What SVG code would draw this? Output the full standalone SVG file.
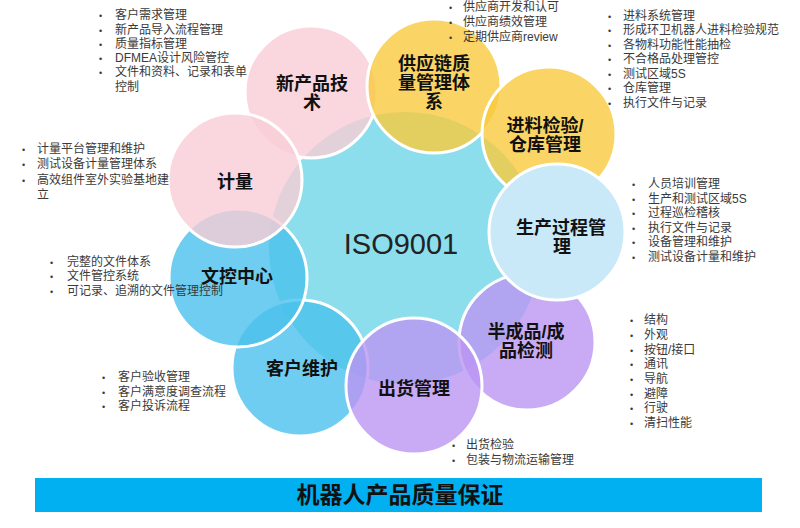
<svg xmlns="http://www.w3.org/2000/svg" width="800" height="528" viewBox="0 0 800 528">
<style>
.c{stroke:#fff;stroke-width:3}
.pink{fill:#f9cdd6;fill-opacity:.8}
.yel{fill:#f9c93d;fill-opacity:.8}
.blue{fill:#4ac0ec;fill-opacity:.8}
.pur{fill:#ba95f2;fill-opacity:.8}
.lbl{font-family:"Liberation Sans","Noto Sans CJK SC",sans-serif;font-weight:bold;font-size:18px;fill:#111;text-anchor:middle}
.lst{font-family:"Liberation Sans","Noto Sans CJK SC",sans-serif;font-size:12px;fill:#3a3a3a}
.bul{font-family:"Liberation Sans",sans-serif;font-size:9px;fill:#3a3a3a}
</style>
<rect width="800" height="528" fill="#fff"/>
<g id="iso9001">
<circle cx="405" cy="248" r="136" fill="#8cdeec"/>
<text x="401" y="254" font-family="Liberation Sans,Arial,sans-serif" font-size="29" fill="#222" text-anchor="middle">ISO9001</text>
</g>
<g id="new-product">
<circle class="c pink" cx="311" cy="92" r="66"/>
<text class="lbl"><tspan x="312" y="90">新产品技</tspan><tspan x="312" y="109">术</tspan></text>
<text class="bul"><tspan x="99" y="19">•</tspan><tspan x="99" y="34">•</tspan><tspan x="99" y="48">•</tspan><tspan x="99" y="62">•</tspan><tspan x="99" y="76">•</tspan></text>
<text class="lst"><tspan x="115" y="19">客户需求管理</tspan><tspan x="115" y="34">新产品导入流程管理</tspan><tspan x="115" y="48">质量指标管理</tspan><tspan x="115" y="62">DFMEA设计风险管控</tspan><tspan x="115" y="76">文件和资料、记录和表单</tspan><tspan x="115" y="91">控制</tspan></text>
</g>
<g id="supply-chain">
<circle class="c yel" cx="434" cy="86" r="67"/>
<text class="lbl"><tspan x="434" y="70">供应链质</tspan><tspan x="434" y="89">量管理体</tspan><tspan x="434" y="108">系</tspan></text>
<text class="bul"><tspan x="449" y="11">•</tspan><tspan x="449" y="26">•</tspan><tspan x="449" y="41">•</tspan></text>
<text class="lst"><tspan x="463" y="11">供应商开发和认可</tspan><tspan x="463" y="26">供应商绩效管理</tspan><tspan x="463" y="41">定期供应商review</tspan></text>
</g>
<g id="incoming">
<circle class="c yel" cx="549" cy="134" r="67"/>
<text class="lbl"><tspan x="545" y="132">进料检验/</tspan><tspan x="545" y="151">仓库管理</tspan></text>
<text class="bul"><tspan x="608" y="19.5">•</tspan><tspan x="608" y="34">•</tspan><tspan x="608" y="48.5">•</tspan><tspan x="608" y="63">•</tspan><tspan x="608" y="77.5">•</tspan><tspan x="608" y="92">•</tspan><tspan x="608" y="106.5">•</tspan></text>
<text class="lst"><tspan x="623" y="19.5">进料系统管理</tspan><tspan x="623" y="34">形成环卫机器人进料检验规范</tspan><tspan x="623" y="48.5">各物料功能性能抽检</tspan><tspan x="623" y="63">不合格品处理管控</tspan><tspan x="623" y="77.5">测试区域5S</tspan><tspan x="623" y="92">仓库管理</tspan><tspan x="623" y="106.5">执行文件与记录</tspan></text>
</g>
<g id="semi-finished">
<circle class="c pur" cx="527" cy="342" r="68"/>
<text class="lbl"><tspan x="526" y="338">半成品/成</tspan><tspan x="526" y="357">品检测</tspan></text>
<text class="bul"><tspan x="630" y="324">•</tspan><tspan x="630" y="339">•</tspan><tspan x="630" y="354">•</tspan><tspan x="630" y="368">•</tspan><tspan x="630" y="383">•</tspan><tspan x="630" y="398">•</tspan><tspan x="630" y="412">•</tspan><tspan x="630" y="427">•</tspan></text>
<text class="lst"><tspan x="644" y="324">结构</tspan><tspan x="644" y="339">外观</tspan><tspan x="644" y="354">按钮/接口</tspan><tspan x="644" y="368">通讯</tspan><tspan x="644" y="383">导航</tspan><tspan x="644" y="398">避障</tspan><tspan x="644" y="412">行驶</tspan><tspan x="644" y="427">清扫性能</tspan></text>
</g>
<g id="customer">
<circle class="c blue" cx="300" cy="368" r="68"/>
<text class="lbl" x="302" y="375">客户维护</text>
<text class="bul"><tspan x="102" y="381">•</tspan><tspan x="102" y="396">•</tspan><tspan x="102" y="410">•</tspan></text>
<text class="lst"><tspan x="118" y="381">客户验收管理</tspan><tspan x="118" y="396">客户满意度调查流程</tspan><tspan x="118" y="410">客户投诉流程</tspan></text>
</g>
<g id="doc-control">
<circle class="c blue" cx="238" cy="278" r="69"/>
<text class="lbl" x="237" y="283">文控中心</text>
<text class="bul"><tspan x="50" y="266">•</tspan><tspan x="50" y="280">•</tspan><tspan x="50" y="295">•</tspan></text>
<text class="lst"><tspan x="67" y="266">完整的文件体系</tspan><tspan x="67" y="280">文件管控系统</tspan><tspan x="67" y="295">可记录、追溯的文件管理控制</tspan></text>
</g>
<g id="metrology">
<circle class="c pink" cx="235" cy="180" r="67"/>
<text class="lbl" x="235" y="188">计量</text>
<text class="bul"><tspan x="22" y="153">•</tspan><tspan x="22" y="168">•</tspan><tspan x="22" y="184">•</tspan></text>
<text class="lst"><tspan x="37" y="153">计量平台管理和维护</tspan><tspan x="37" y="168">测试设备计量管理体系</tspan><tspan x="37" y="184">高效组件室外实验基地建</tspan><tspan x="37" y="199">立</tspan></text>
</g>
<g id="shipping">
<circle class="c pur" cx="414" cy="386" r="68"/>
<text class="lbl" x="414" y="395">出货管理</text>
<text class="bul"><tspan x="452" y="449">•</tspan><tspan x="452" y="464">•</tspan></text>
<text class="lst"><tspan x="466" y="449">出货检验</tspan><tspan x="466" y="464">包装与物流运输管理</tspan></text>
</g>
<g id="production">
<circle class="c" cx="557" cy="232" r="68" fill="#c9e9f9"/>
<text class="lbl"><tspan x="561" y="234">生产过程管</tspan><tspan x="562" y="253">理</tspan></text>
<text class="bul"><tspan x="632" y="188">•</tspan><tspan x="632" y="202.5">•</tspan><tspan x="632" y="217">•</tspan><tspan x="632" y="231.5">•</tspan><tspan x="632" y="246">•</tspan><tspan x="632" y="260.5">•</tspan></text>
<text class="lst"><tspan x="648" y="188">人员培训管理</tspan><tspan x="648" y="202.5">生产和测试区域5S</tspan><tspan x="648" y="217">过程巡检稽核</tspan><tspan x="648" y="231.5">执行文件与记录</tspan><tspan x="648" y="246">设备管理和维护</tspan><tspan x="648" y="260.5">测试设备计量和维护</tspan></text>
</g>
<g id="title-bar">
<rect x="35" y="478" width="727" height="34" fill="#00b0f0"/>
<text x="400" y="503" font-family="Liberation Sans,Noto Sans CJK SC,sans-serif" font-weight="bold" font-size="23" fill="#111" text-anchor="middle">机器人产品质量保证</text>
</g>
</svg>
